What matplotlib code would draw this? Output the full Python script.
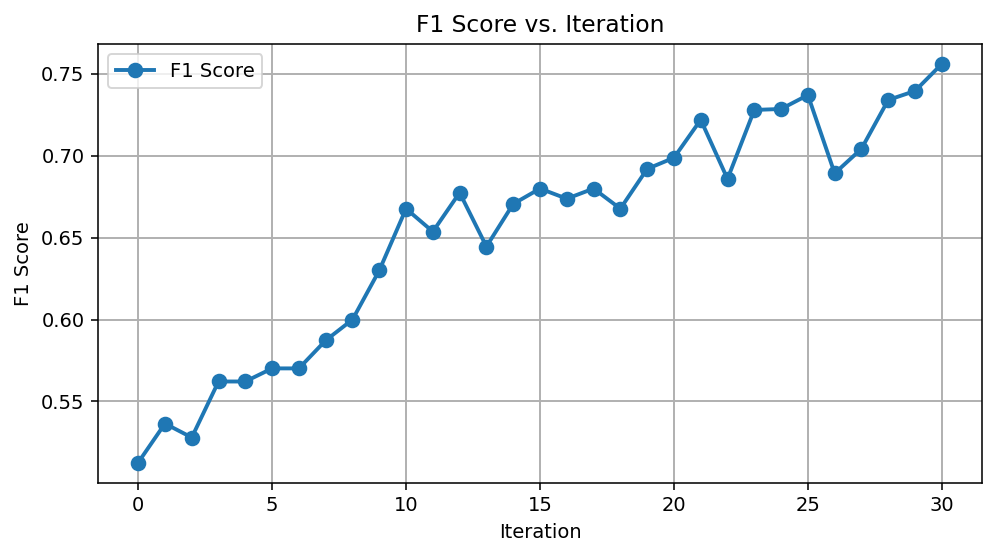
import matplotlib
matplotlib.use("Agg")
import matplotlib.pyplot as plt

iterations = list(range(31))
f1_scores = [0.5127, 0.5365, 0.5280, 0.5622, 0.5622, 0.5702, 0.5702, 0.5873, 0.6000, 0.6300,
             0.6677, 0.6537, 0.6775, 0.6446, 0.6706, 0.6800, 0.6738, 0.6800, 0.6677, 0.6920,
             0.6988, 0.7220, 0.6859, 0.7280, 0.7286, 0.7371, 0.6893, 0.7043, 0.7341, 0.7396,
             0.7561]

dpi = 140
fig = plt.figure(figsize=(996/dpi, 557/dpi), dpi=dpi)
ax = fig.add_subplot(111)
fig.subplots_adjust(left=98/996, right=982/996, top=1-44/557, bottom=1-482.5/557)

ax.plot(iterations, f1_scores, marker="o", color="#1f77b4", linewidth=2, markersize=7, label="F1 Score")
ax.set_title("F1 Score vs. Iteration")
ax.set_xlabel("Iteration")
ax.set_ylabel("F1 Score")
ax.set_xticks([0, 5, 10, 15, 20, 25, 30])
ax.set_yticks([0.55, 0.60, 0.65, 0.70, 0.75])
ax.grid(True, linewidth=1)
ax.legend(loc="upper left")

fig.savefig("out.png", dpi=dpi)
